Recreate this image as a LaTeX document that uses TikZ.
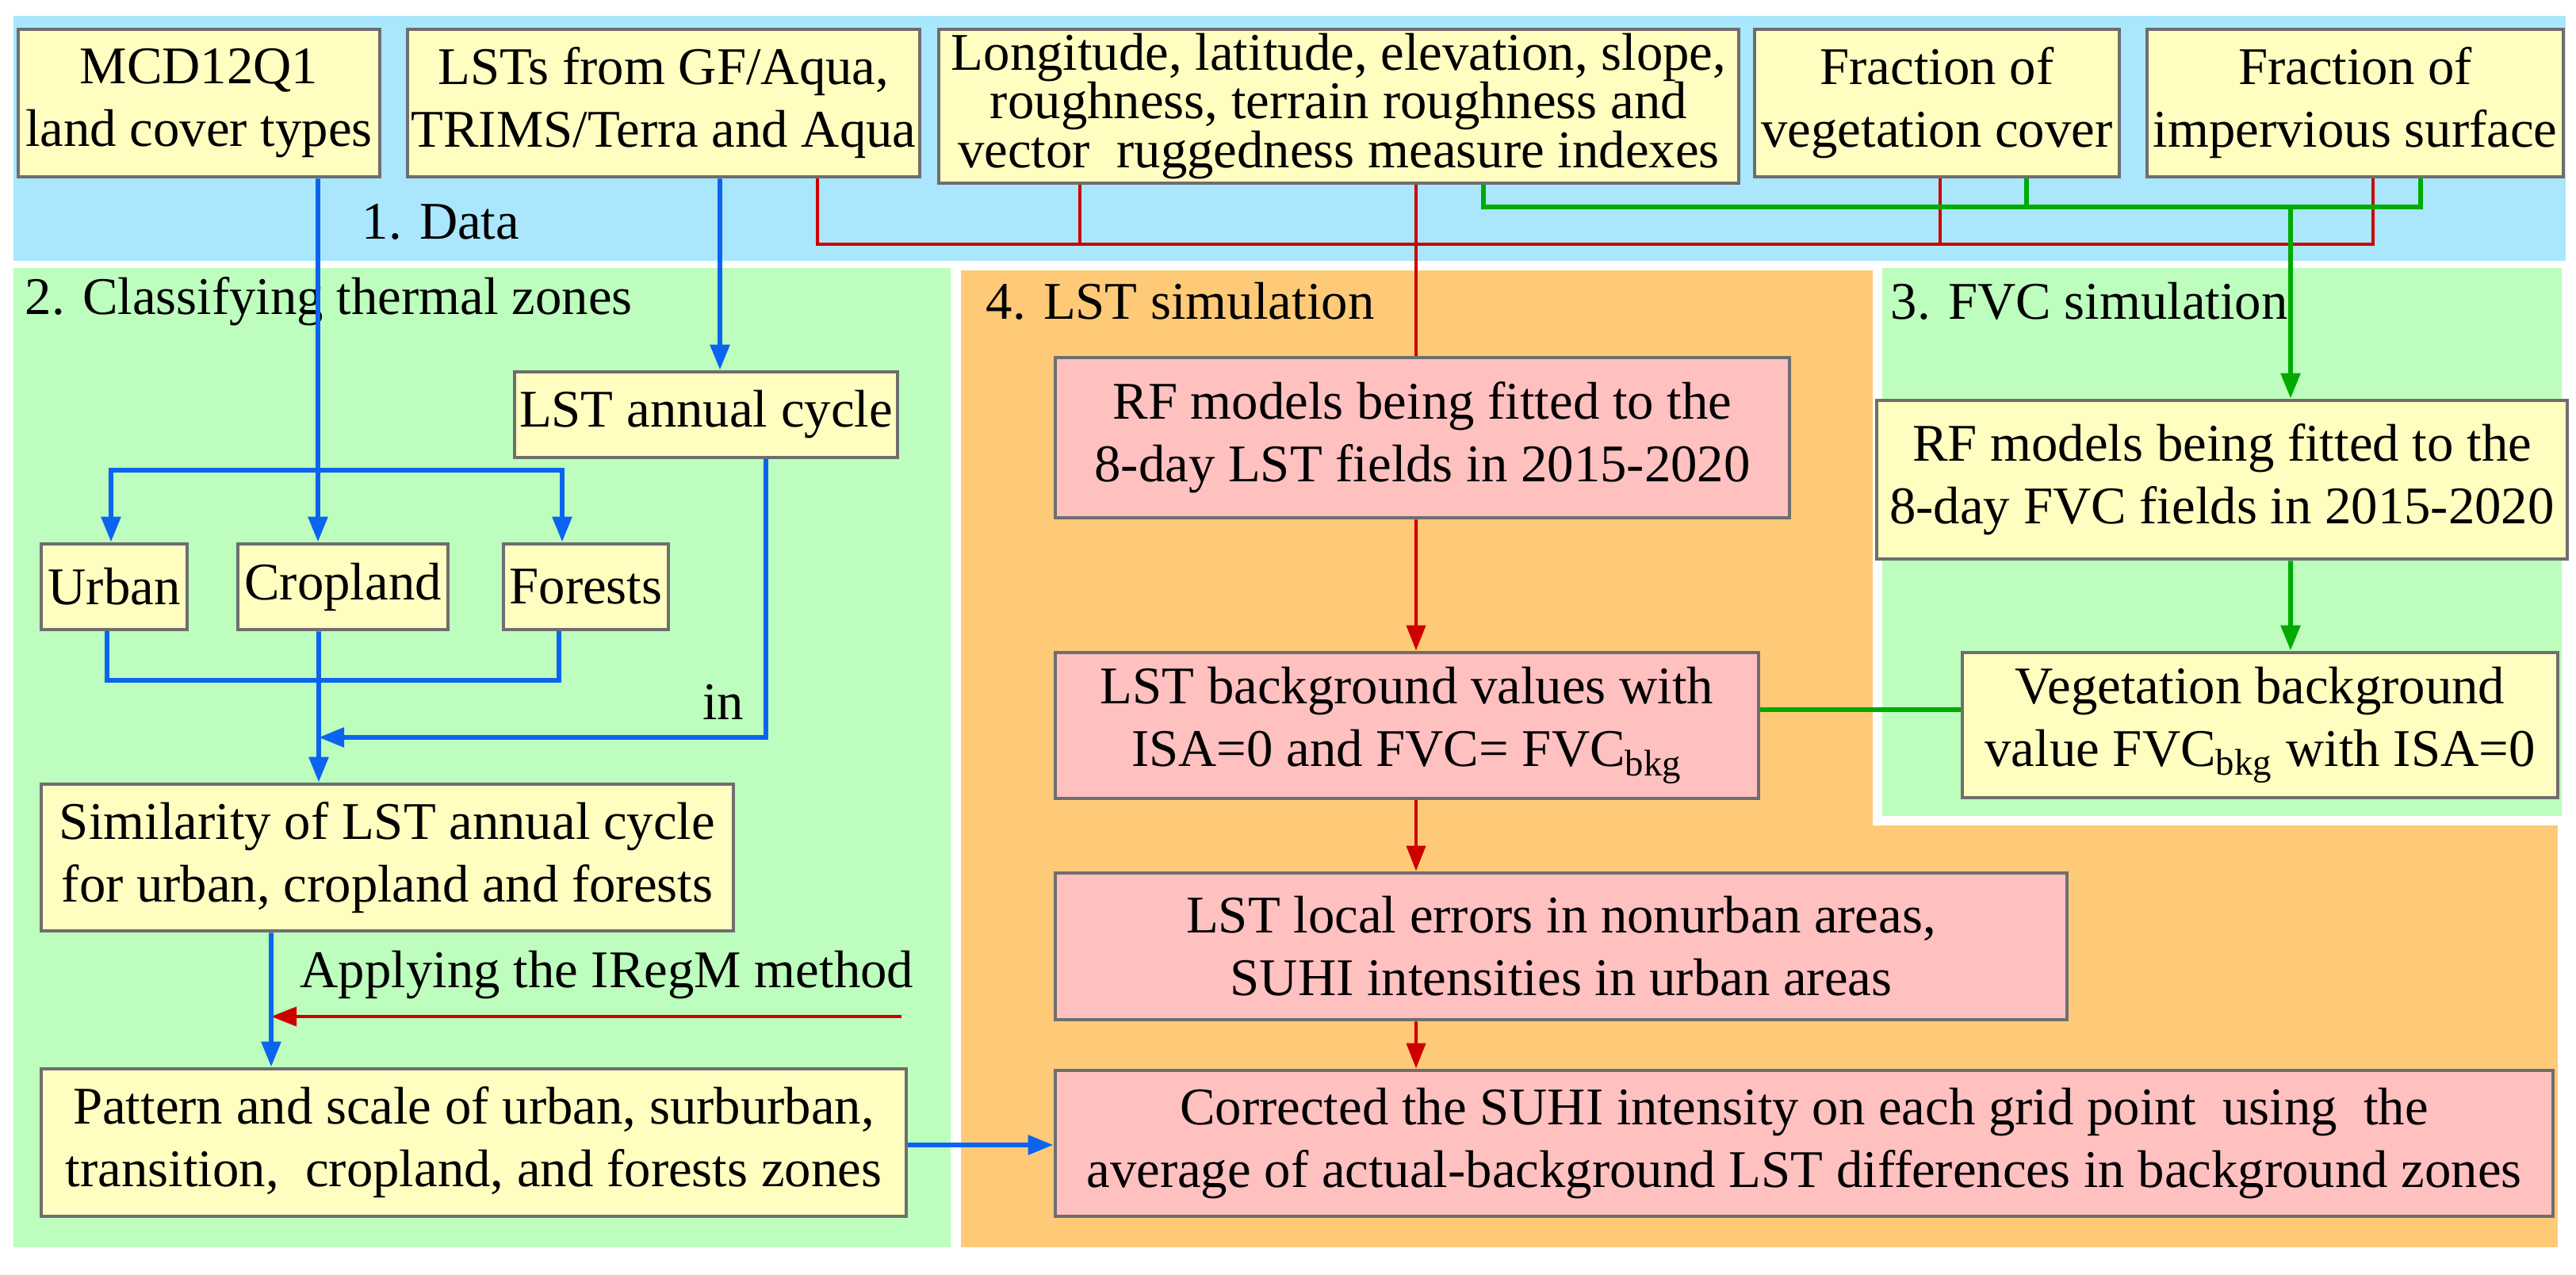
\documentclass[tikz,border=0pt]{standalone}
\usepackage{fontspec}
\setmainfont{Liberation Serif}
\usetikzlibrary{arrows.meta,calc}
\definecolor{bandblue}{HTML}{AAE6FC}
\definecolor{pgreen}{HTML}{BDFDBD}
\definecolor{porange}{HTML}{FFCA78}
\definecolor{byellow}{HTML}{FFFDC0}
\definecolor{bpink}{HTML}{FFC0C0}
\definecolor{bgray}{HTML}{6E6E6E}
\definecolor{lblue}{HTML}{0A64F0}
\definecolor{lred}{HTML}{CC0000}
\definecolor{lgreen}{HTML}{00AA00}
\begin{document}
\begin{tikzpicture}[
  font=\fontsize{19}{22.5}\selectfont,
  box/.style={draw=bgray, line width=1.4pt, align=center, inner sep=0pt},
  yb/.style={box, fill=byellow},
  pb/.style={box, fill=bpink},
  tip/.style={-{Triangle[length=3.2mm,width=2.4mm]}},
  bl/.style={draw=lblue, line width=1.7pt},
  rd/.style={draw=lred, line width=1.2pt},
  gr/.style={draw=lgreen, line width=1.7pt},
  lab/.style={anchor=west, inner sep=0pt}
]
\useasboundingbox (0,0) rectangle (32.49,-16.07);
% panels
\fill[bandblue] (0.17,-0.20) rectangle (32.36,-3.29);
\fill[pgreen] (0.17,-3.38) rectangle (11.99,-15.73);
\fill[porange] (12.12,-3.41) rectangle (32.26,-15.73);
\fill[white] (23.62,-3.30) rectangle (32.49,-10.41);
\fill[pgreen] (23.74,-3.38) rectangle (32.31,-10.29);

\node[lab] (t1) at (4.56,-2.80) {1. Data};
\node[lab] (t2) at (0.31,-3.80) {2. Classifying thermal zones};
\node[lab] (t4) at (12.43,-3.80) {4. LST simulation};
\node[lab] (t3) at (23.84,-3.80) {3. FVC simulation};

% data boxes
\node[yb, minimum width=4.56cm, minimum height=1.86cm] (mcd) at (2.51,-1.30) {MCD12Q1\\land cover types};
\node[yb, minimum width=6.46cm, minimum height=1.86cm] (lsts) at (8.37,-1.30) {LSTs from GF/Aqua,\\TRIMS/Terra and Aqua};
\node[yb, minimum width=10.09cm, minimum height=1.94cm, font=\fontsize{19}{17.5}\selectfont] (lon) at (16.885,-1.34) {Longitude, latitude, elevation, slope,\\roughness, terrain roughness and\\vector~ ruggedness measure indexes};
\node[yb, minimum width=4.60cm, minimum height=1.86cm] (veg) at (24.43,-1.30) {Fraction of\\vegetation cover};
\node[yb, minimum width=5.25cm, minimum height=1.86cm] (imp) at (29.705,-1.30) {Fraction of\\impervious surface};

% classification
\node[yb, minimum width=4.83cm, minimum height=1.08cm] (cyc) at (8.905,-5.23) {LST annual cycle};
\node[yb, minimum width=1.84cm, minimum height=1.08cm] (urb) at (1.44,-7.40) {Urban};
\node[yb, minimum width=2.65cm, minimum height=1.08cm] (crp) at (4.325,-7.40) {Cropland};
\node[yb, minimum width=2.08cm, minimum height=1.08cm] (for) at (7.39,-7.40) {Forests};
\node[yb, minimum width=8.73cm, minimum height=1.85cm] (sim) at (4.885,-10.815) {Similarity of LST annual cycle\\for urban, cropland and forests};
\node[yb, minimum width=10.91cm, minimum height=1.86cm] (pat) at (5.975,-14.41) {Pattern and scale of urban, surburban,\\transition,~ cropland, and forests zones};

% LST simulation
\node[pb, minimum width=9.26cm, minimum height=2.02cm] (rfl) at (17.94,-5.52) {RF models being fitted to the\\8-day LST fields in 2015-2020};
\node[pb, minimum width=8.87cm, minimum height=1.84cm] (bg) at (17.745,-9.15) {LST background values with\\ISA=0 and FVC= FVC\textsubscript{bkg}};
\node[pb, minimum width=12.76cm, minimum height=1.85cm] (err) at (19.69,-11.935) {LST local errors in nonurban areas,\\SUHI intensities in urban areas};
\node[pb, minimum width=18.89cm, minimum height=1.84cm] (cor) at (22.755,-14.42) {Corrected the SUHI intensity on each grid point~ using~ the\\average of actual-background LST differences in background zones};

% FVC simulation
\node[yb, minimum width=8.71cm, minimum height=2.00cm] (rff) at (28.025,-6.05) {RF models being fitted to the\\8-day FVC fields in 2015-2020};
\node[yb, minimum width=7.51cm, minimum height=1.83cm] (vbg) at (28.505,-9.145) {Vegetation background\\value FVC\textsubscript{bkg} with ISA=0};

\node[inner sep=0pt] (in) at (9.12,-8.85) {in};
\node[lab] (app) at (3.78,-12.30) {Applying the IRegM method};

% coordinates
\coordinate (rj) at (10.31,-3.08);
\coordinate (gj) at (18.71,-2.61);
\coordinate (gd) at (28.89,-2.61);
\coordinate (bj) at (4.01,-5.93);
\coordinate (mj) at (4.02,-9.30);
\coordinate (aps) at (11.37,-12.82);
\coordinate (ape) at (3.42,-12.82);

% red data connectors
\draw[rd] ([xshift=1.94cm]lsts.south) |- ([xshift=0.225cm]imp.south |- rj) -- ([xshift=0.225cm]imp.south);
\draw[rd] ([xshift=-3.265cm]lon.south) -- ([xshift=-3.265cm]lon.south |- rj);
\draw[rd] ([xshift=0.04cm]veg.south) -- ([xshift=0.04cm]veg.south |- rj);
\draw[rd] ([xshift=0.975cm]lon.south) -- ([xshift=-0.08cm]rfl.north);
\draw[rd,tip] ([xshift=-0.08cm]rfl.south) -- ([xshift=0.115cm]bg.north);
\draw[rd,tip] ([xshift=0.115cm]bg.south) -- ([xshift=-1.83cm]err.north);
\draw[rd,tip] ([xshift=-1.83cm]err.south) -- ([xshift=-4.895cm]cor.north);
\draw[rd,tip] (aps) -- (ape);

% green connectors
\draw[gr] ([xshift=1.825cm]lon.south) |- ([xshift=0.825cm]imp.south |- gj) -- ([xshift=0.825cm]imp.south);
\draw[gr] ([xshift=1.13cm]veg.south) -- ([xshift=1.13cm]veg.south |- gj);
\draw[gr,tip] (gd) -- ([xshift=0.865cm]rff.north);
\draw[gr,tip] ([xshift=0.865cm]rff.south) -- ([xshift=0.385cm]vbg.north);
\draw[gr] ([yshift=0.2cm]bg.east) -- ([yshift=0.2cm]bg.east -| vbg.west);

% blue connectors
\draw[bl,tip] ([xshift=1.50cm]mcd.south) -- ([xshift=-0.315cm]crp.north);
\draw[bl,tip] ([xshift=0.71cm]lsts.south) -- ([xshift=0.175cm]cyc.north);
\draw[bl,tip] (bj) -| ([xshift=-0.04cm]urb.north);
\draw[bl,tip] (bj) -| ([xshift=-0.30cm]for.north);
\draw[bl] ([xshift=-0.09cm]urb.south) |- ++(5.70,-0.62) -- ([xshift=-0.34cm]for.south);
\draw[bl,tip] ([xshift=-0.305cm]crp.south) -- ([xshift=-0.865cm]sim.north);
\draw[bl,tip] ([xshift=0.755cm]cyc.south) |- (mj);
\draw[bl,tip] ([xshift=-1.465cm]sim.south) -- ([xshift=-2.555cm]pat.north);
\draw[bl,tip] ([yshift=-0.03cm]pat.east) -- ([yshift=-0.03cm]pat.east -| cor.west);
\end{tikzpicture}
\end{document}
